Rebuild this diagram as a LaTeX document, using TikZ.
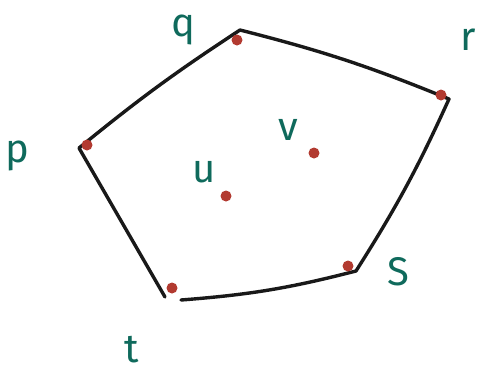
\documentclass[tikz,border=0pt]{standalone}
\usepackage{fontspec}
\setmainfont{Fira Sans}
\usepackage{tikz}
\usetikzlibrary{positioning,calc}
\definecolor{inkteal}{HTML}{0F6A5C}
\definecolor{dotred}{HTML}{B23A30}
\begin{document}
\begin{tikzpicture}[x=1pt, y=-1pt, font=\fontsize{40}{42}\selectfont]
% pixel coordinates of the 480x376 sketch, y pointing down
\useasboundingbox (0,0) rectangle (480,376);
\tikzset{hull/.style={line width=3.4pt, line join=round, line cap=round, black!90},
  pt/.style={circle, fill=dotred, inner sep=0pt, minimum size=11pt},
  lbl/.style={inkteal, inner sep=0pt}}
% corners of the hull
\foreach \n/\x/\y in {cq/240/30, cr/449/99, cs/356/271, ctb/181/300, ctl/165/297, cp/79/148}
  { \coordinate (\n) at (\x,\y); }
\draw[hull] (ctb) to[bend right=5] (cs) to[bend right=4] (cr) to[bend right=4] (cq) to[bend right=3] (cp) -- (ctl);
% points
\foreach \n/\x/\y in {q/237/40, r/441/95, p/87/145, s/348/266, t/172/288, u/226/196, v/314/153}
  { \node[pt] (\n) at (\x,\y) {}; }
% labels
\foreach \n/\x/\y/\l in {lq/183/30/q, lr/468/40/r, lp/17/156/p, lu/204/172/u, lv/288/130/v, ls/398/272/S, lt/132/350/t}
  { \node[lbl] (\n) at (\x,\y) {\l}; }
\end{tikzpicture}
\end{document}
